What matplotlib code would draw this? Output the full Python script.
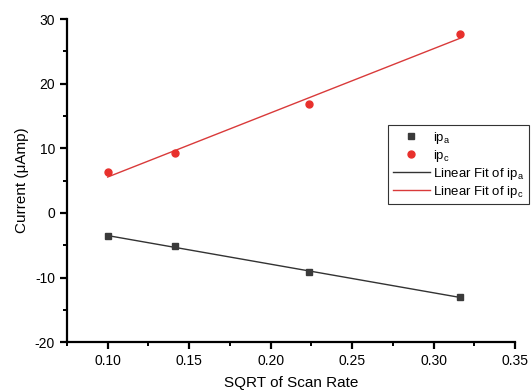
import numpy as np
import matplotlib.pyplot as plt
from matplotlib.ticker import MultipleLocator

plt.rcParams['font.family'] = ['Liberation Sans', 'DejaVu Sans']
plt.rcParams['mathtext.fontset'] = 'custom'
plt.rcParams['mathtext.rm'] = 'Liberation Sans'
plt.rcParams['axes.unicode_minus'] = False

# sqrt of scan rate and peak currents
sqrt_rate = np.array([0.1, 0.1414, 0.2236, 0.3162])
ip_a = np.array([-3.6, -5.1, -9.2, -13.0])
ip_c = np.array([6.3, 9.3, 16.8, 27.7])

fig = plt.figure(figsize=(5.31, 3.91), dpi=100)
ax = fig.add_axes([0.126, 0.125, 0.844, 0.826])

# linear fits
fa = np.polyfit(sqrt_rate, ip_a, 1)
fc = np.polyfit(sqrt_rate, ip_c, 1)
xf = np.array([sqrt_rate[0], sqrt_rate[-1]])

ax.plot(sqrt_rate, ip_a, 's', color='#3a3a3a', markersize=5, label='ip$_\\mathregular{a}$', zorder=3)
ax.plot(sqrt_rate, ip_c, 'o', color='#e8302c', markersize=5, label='ip$_\\mathregular{c}$', zorder=3)
ax.plot(xf, np.polyval(fa, xf), '-', color='#333333', lw=1.0, label='Linear Fit of ip$_\\mathregular{a}$')
ax.plot(xf, np.polyval(fc, xf), '-', color='#d93a3a', lw=1.0, label='Linear Fit of ip$_\\mathregular{c}$')

ax.set_xlim(0.075, 0.35)
ax.set_ylim(-20, 30)
ax.xaxis.set_minor_locator(MultipleLocator(0.025))
ax.yaxis.set_major_locator(MultipleLocator(10))
ax.yaxis.set_minor_locator(MultipleLocator(5))
ax.set_xticks([0.10, 0.15, 0.20, 0.25, 0.30, 0.35])
ax.set_xticklabels(['0.10', '0.15', '0.20', '0.25', '0.30', '0.35'])

for s in ['top', 'right']:
    ax.spines[s].set_visible(False)
for s in ['left', 'bottom']:
    ax.spines[s].set_linewidth(1.6)
ax.tick_params(which='major', direction='out', length=5, width=1.6, labelsize=10)
ax.tick_params(which='minor', direction='out', length=3, width=1.4)

ax.set_xlabel('SQRT of Scan Rate', fontsize=11, labelpad=6)
ax.set_ylabel('Current (\u03bcAmp)', fontsize=11, labelpad=4)

leg = ax.legend(loc='upper left', bbox_to_anchor=(0.717, 0.672), fontsize=9.5,
                frameon=True, fancybox=False, edgecolor='#333333', framealpha=1,
                handlelength=2.8, handletextpad=0.25, borderpad=0.35, labelspacing=0.15,
                borderaxespad=0)
leg.get_frame().set_linewidth(0.8)

fig.savefig('out.png', dpi=100)
